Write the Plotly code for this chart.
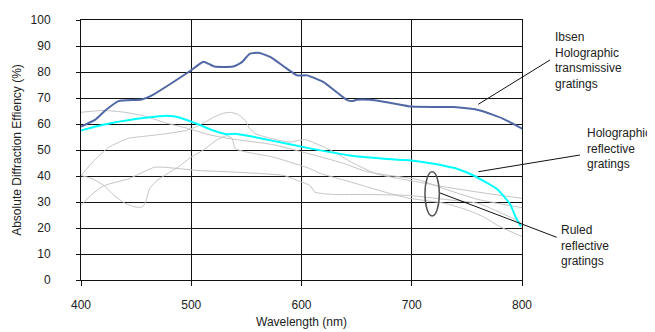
import plotly.graph_objects as go

# ---- data ----
ibsen_x = [400, 413, 422, 434, 455, 463, 498, 511, 516, 521, 538, 546, 553, 561, 572, 584, 596, 605, 620, 632, 641, 646, 650, 662, 680, 700, 738, 762, 783, 800]
ibsen_y = [59.0, 61.7, 65.2, 68.8, 69.4, 70.7, 80.1, 83.9, 83.1, 82.1, 82.1, 83.8, 87.0, 87.4, 85.7, 82.1, 78.7, 78.7, 76.1, 72.2, 69.3, 68.8, 69.3, 69.3, 68.2, 66.7, 66.5, 65.2, 62.0, 58.2]

holo_x = [400, 420, 451, 475, 484, 490, 505, 520, 532, 541, 555, 572, 602, 644, 690, 699, 720, 735, 741, 756, 777, 789, 795, 799]
holo_y = [57.5, 59.7, 62.0, 63.1, 63.0, 62.4, 60.1, 57.5, 56.1, 56.2, 55.2, 53.7, 51.1, 47.9, 46.2, 46.0, 44.7, 43.4, 42.8, 40.2, 35.1, 29.3, 23.5, 20.6]

ruled1_x = [400, 420, 440, 460, 476, 496, 517, 536, 575, 600, 617, 638, 659, 677, 707, 730, 760, 800]
ruled1_y = [64.5, 65.2, 64.5, 62.8, 60.5, 58.4, 55.8, 54.3, 52.0, 49.3, 47.4, 44.9, 41.7, 40.4, 38.5, 35.0, 31.0, 27.8]

ruled2_x = [400, 412, 425, 443, 458, 476, 495, 506, 520, 528, 535, 542, 549, 553, 558, 572, 590, 598, 604, 610, 620, 632, 647, 668, 689, 707, 730, 760, 800]
ruled2_y = [40.2, 46.0, 51.0, 54.5, 55.3, 56.2, 57.5, 59.2, 62.5, 64.0, 64.5, 63.8, 61.3, 58.3, 56.3, 54.5, 53.0, 53.8, 54.0, 53.0, 51.2, 48.7, 44.9, 40.8, 39.0, 37.6, 35.8, 33.8, 31.4]

ruled3_x = [400, 410, 421, 430, 440, 450, 456, 459, 462, 467, 473, 488, 499, 511, 523, 532, 537, 540, 575, 608, 617, 638, 659, 680, 698, 708, 730, 750, 765, 780, 800]
ruled3_y = [40.2, 39.0, 36.3, 32.5, 29.5, 28.0, 28.2, 30.5, 35.0, 37.5, 39.5, 43.4, 47.0, 50.0, 53.8, 55.5, 54.5, 50.5, 47.2, 42.8, 41.0, 38.5, 35.9, 33.3, 31.4, 30.8, 29.5, 27.0, 24.3, 20.5, 16.7]

ruled4_x = [400, 410, 421, 443, 467, 485, 506, 530, 560, 584, 599, 608, 612, 629, 659, 698, 730, 760, 780, 800]
ruled4_y = [28.7, 33.0, 36.3, 38.9, 43.4, 43.0, 42.1, 41.7, 41.0, 40.2, 37.8, 36.3, 33.8, 32.9, 32.9, 32.5, 31.0, 29.5, 26.0, 22.0]

x_ticks = [400, 500, 600, 700, 800]
y_ticks = [0, 10, 20, 30, 40, 50, 60, 70, 80, 90, 100]

FONT = "Arial, Liberation Sans, sans-serif"
TXT = "#222222"

fig = go.Figure()
gray = "#c4c4c4"
for xs, ys in [(ruled1_x, ruled1_y), (ruled2_x, ruled2_y), (ruled3_x, ruled3_y), (ruled4_x, ruled4_y)]:
    fig.add_trace(go.Scatter(x=xs, y=ys, mode="lines",
                             line=dict(color=gray, width=1, shape="spline", smoothing=0.5),
                             hoverinfo="skip", showlegend=False))
fig.add_trace(go.Scatter(x=holo_x, y=holo_y, mode="lines",
                         line=dict(color="#00ffff", width=2, shape="spline", smoothing=0.5),
                         showlegend=False))
fig.add_trace(go.Scatter(x=ibsen_x, y=ibsen_y, mode="lines",
                         line=dict(color="#5167a6", width=2, shape="spline", smoothing=0.5),
                         showlegend=False))

# the page body adds an 8px offset; margins compensate for it
fig.update_layout(
    width=655, height=332,
    margin=dict(l=73, r=141, t=12, b=60),
    paper_bgcolor="white", plot_bgcolor="white",
    font=dict(family=FONT, size=12, color=TXT),
    showlegend=False,
)
fig.update_xaxes(
    range=[400, 800], tickvals=x_ticks, ticktext=[str(v) for v in x_ticks],
    showgrid=True, gridcolor="#111111", gridwidth=1,
    showline=True, linecolor="#111111", linewidth=1, mirror=True,
    ticks="outside", ticklen=5, tickcolor="#111111",
    ticklabelstandoff=9, zeroline=False, automargin=False,
    title=dict(text="Wavelength (nm)", font=dict(size=12), standoff=6),
)
fig.update_yaxes(
    range=[0, 100], tickvals=y_ticks, ticktext=[str(v) for v in y_ticks],
    showgrid=True, gridcolor="#111111", gridwidth=1,
    showline=True, linecolor="#111111", linewidth=1, mirror=True,
    ticks="outside", ticklen=4, tickcolor="#111111",
    ticklabelstandoff=23, zeroline=False, automargin=False,
    title=dict(text="Absolute Diffraction Effiency (%)", font=dict(size=12), standoff=6),
)

# leader lines (paper coords)
line_style = dict(color="#111111", width=1)
fig.add_shape(type="line", xref="paper", yref="paper", x0=0.9009, y0=0.6758, x1=1.0635, y1=0.8462, line=line_style)
fig.add_shape(type="line", xref="paper", yref="paper", x0=0.9009, y0=0.4165, x1=1.1315, y1=0.4808, line=line_style)
fig.add_shape(type="line", xref="paper", yref="paper", x0=0.8125, y0=0.3358, x1=1.0787, y1=0.1642, line=line_style)
# ellipse around ruled gratings
fig.add_shape(type="circle", xref="x", yref="y", x0=712, x1=725, y0=24.6, y1=41.6,
              line=dict(color="#555555", width=1.5))

ann = dict(xref="paper", yref="paper", showarrow=False, xanchor="left", yanchor="middle",
           align="left", font=dict(family=FONT, size=12, color=TXT))
fig.add_annotation(x=1.070, y=0.846, text="Ibsen<br>Holographic<br>transmissive<br>gratings", **ann)
fig.add_annotation(x=1.142, y=0.504, text="Holographic<br>reflective<br>gratings", **ann)
fig.add_annotation(x=1.085, y=0.131, text="Ruled<br>reflective<br>gratings", **ann)

fig.write_html("out.html")
